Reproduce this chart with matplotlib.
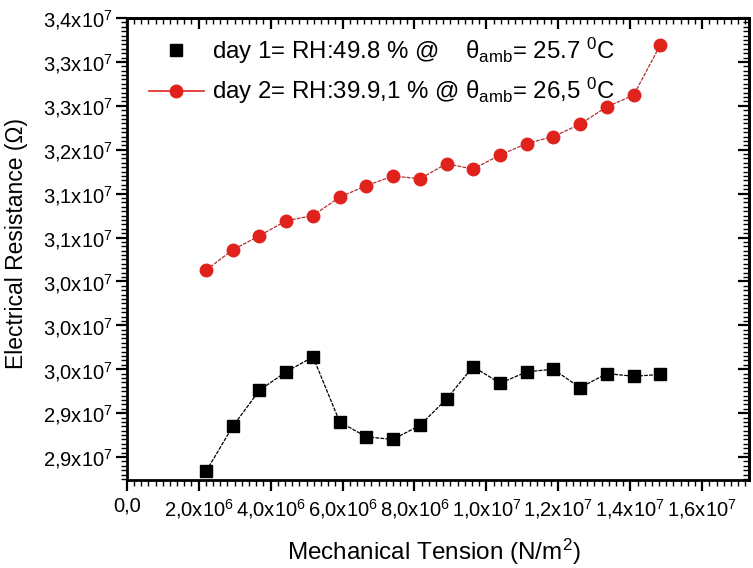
import numpy as np
import matplotlib
matplotlib.use("Agg")
import matplotlib.pyplot as plt
from matplotlib.lines import Line2D
from matplotlib.ticker import FixedLocator, MultipleLocator

plt.rcParams['font.family'] = ['Liberation Sans', 'DejaVu Sans']
plt.rcParams['mathtext.fontset'] = 'custom'
plt.rcParams['mathtext.rm'] = 'Liberation Sans'
plt.rcParams['mathtext.it'] = 'Liberation Sans:italic'
plt.rcParams['mathtext.bf'] = 'Liberation Sans:bold'

# ---- data (tension in 1e6 N/m^2, resistance in 1e7 Ohm) ----
tension = [2.21, 2.95, 3.69, 4.43, 5.18, 5.92, 6.66, 7.40, 8.15,
           8.89, 9.63, 10.38, 11.12, 11.86, 12.60, 13.35, 14.09, 14.83]
day1_res = [2.884, 2.935, 2.976, 2.997, 3.014, 2.940, 2.923, 2.920, 2.936,
            2.966, 3.003, 2.984, 2.997, 3.000, 2.979, 2.995, 2.992, 2.994]
day2_res = [3.113, 3.136, 3.152, 3.169, 3.175, 3.196, 3.209, 3.220, 3.217,
            3.234, 3.228, 3.244, 3.257, 3.265, 3.279, 3.299, 3.312, 3.369]

day1_label = r"day 1= RH:49.8 % @    θ$_{\rm amb}$= 25.7 $^{0}$C"
day2_label = r"day 2= RH:39.9,1 % @ θ$_{\rm amb}$= 26,5 $^{0}$C"

x_tick_vals = [0, 2, 4, 6, 8, 10, 12, 14, 16]
x_tick_labels = ["0,0", r"2,0x10$^{6}$", r"4,0x10$^{6}$", r"6,0x10$^{6}$", r"8,0x10$^{6}$",
                 r"1,0x10$^{7}$", r"1,2x10$^{7}$", r"1,4x10$^{7}$", r"1,6x10$^{7}$"]
y_tick_vals = [2.90, 2.95, 3.00, 3.05, 3.10, 3.15, 3.20, 3.25, 3.30, 3.35, 3.40]
y_tick_labels = [r"2,9x10$^{7}$", r"2,9x10$^{7}$", r"3,0x10$^{7}$", r"3,0x10$^{7}$",
                 r"3,0x10$^{7}$", r"3,1x10$^{7}$", r"3,1x10$^{7}$", r"3,2x10$^{7}$",
                 r"3,3x10$^{7}$", r"3,3x10$^{7}$", r"3,4x10$^{7}$"]

x = np.array(tension) * 1e6
y1 = np.array(day1_res) * 1e7
y2 = np.array(day2_res) * 1e7

fig = plt.figure(figsize=(7.53, 5.68), dpi=100)
ax = fig.add_axes([0.1683, 0.1549, 0.8264, 0.8134])

red = '#e0221c'
ax.plot(x, y1, color='black', lw=0.9, ls=(0, (3, 1)), marker='s', ms=8.5,
        mfc='black', mec='black', zorder=3)
ax.plot(x, y2, color='#b03030', lw=0.9, ls=(0, (3, 1)), marker='o', ms=9,
        mfc=red, mec=red, zorder=3)

ax.set_xlim(0, 17.3e6)
ax.set_ylim(2.8738e7, 3.40e7)

ax.xaxis.set_major_locator(FixedLocator(np.array(x_tick_vals) * 1e6))
ax.set_xticklabels(x_tick_labels)
ax.xaxis.set_minor_locator(MultipleLocator(2e5))
ax.yaxis.set_major_locator(FixedLocator(np.array(y_tick_vals) * 1e7))
ax.set_yticklabels(y_tick_labels)
ax.yaxis.set_minor_locator(MultipleLocator(0.005e7))

ax.tick_params(which='both', direction='out', labelsize=14.5)
ax.tick_params(which='major', length=8, width=1.6)
ax.tick_params(which='minor', length=4.5, width=1.0)
ax.tick_params(axis='x', pad=4)
ax.tick_params(axis='y', pad=2)

for s in ax.spines.values():
    s.set_linewidth(2.0)

# top/right mirrored ticks pointing inward
sx = ax.secondary_xaxis('top')
sx.xaxis.set_major_locator(FixedLocator(np.array(x_tick_vals) * 1e6))
sx.xaxis.set_minor_locator(MultipleLocator(2e5))
sx.tick_params(which='both', direction='in', labeltop=False)
sx.tick_params(which='major', length=8, width=1.6)
sx.tick_params(which='minor', length=4.5, width=1.0)
sx.spines['top'].set_linewidth(2.0)

sy = ax.secondary_yaxis('right')
sy.yaxis.set_major_locator(FixedLocator(np.array(y_tick_vals) * 1e7))
sy.yaxis.set_minor_locator(MultipleLocator(0.005e7))
sy.tick_params(which='both', direction='in', labelright=False)
sy.tick_params(which='major', length=8, width=1.6)
sy.tick_params(which='minor', length=4.5, width=1.0)
sy.spines['right'].set_linewidth(2.0)

ax.set_xlabel(r"Mechanical Tension (N/m$^{2}$)", fontsize=17.5)
ax.set_ylabel("Electrical Resistance (Ω)", fontsize=16.5)
ax.xaxis.set_label_coords(0.493, -0.122)
ax.yaxis.set_label_coords(-0.158, 0.513)

h1 = Line2D([], [], color='black', ls='None', marker='s', ms=8.5)
h2 = Line2D([], [], color=red, lw=1.2, marker='o', ms=9, mfc=red, mec=red)
ax.legend([h1, h2], [day1_label, day2_label], loc='upper left',
          bbox_to_anchor=(0.035, 0.962), frameon=False, fontsize=17.3,
          handlelength=2.3, handletextpad=0.35, labelspacing=0.42,
          borderpad=0, borderaxespad=0)

fig.savefig("out.png", dpi=100)
